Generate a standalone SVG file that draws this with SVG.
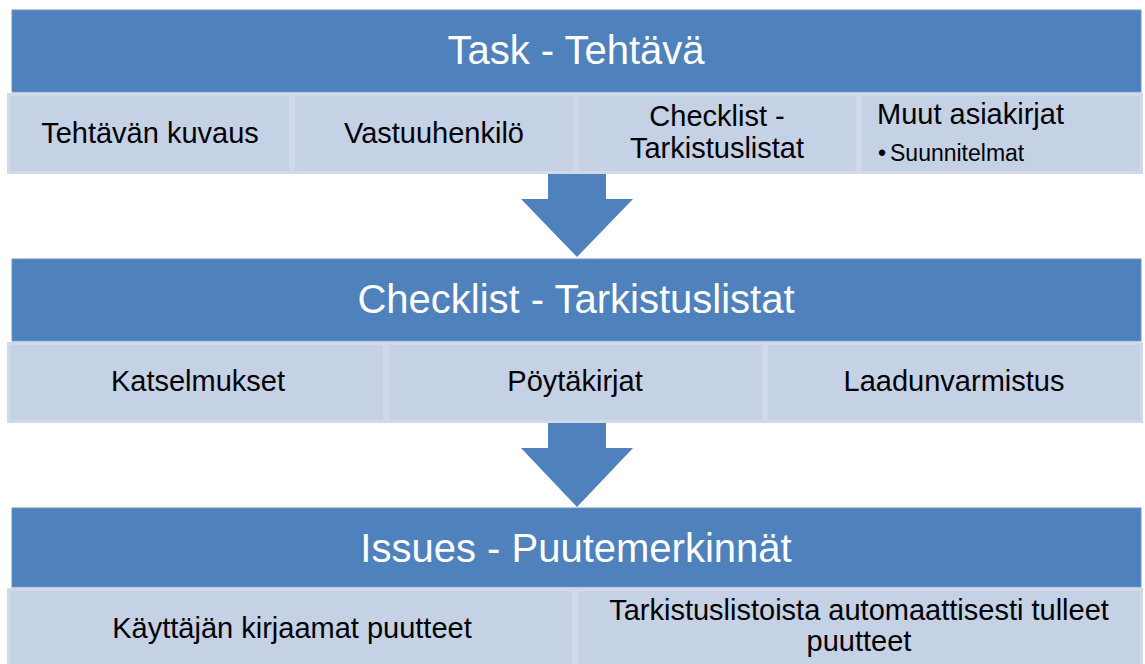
<svg xmlns="http://www.w3.org/2000/svg" width="1145" height="664" viewBox="0 0 1145 664">
<style>
.hdr{fill:#4F81BD;stroke:#6A93C6;stroke-width:1}
.cell{fill:#C5D1E5;stroke:#D0D9EA;stroke-width:3}
.arrow{fill:#4F81BD}
.ht{font-family:"Liberation Sans",Arial,sans-serif;font-size:40px;fill:#FFFFFF;text-anchor:middle}
.ct{font-family:"Liberation Sans",Arial,sans-serif;font-size:29px;fill:#000000;text-anchor:middle}
.bt{font-family:"Liberation Sans",Arial,sans-serif;font-size:23px;fill:#000000}
</style>
<rect width="1145" height="664" fill="#FFFFFF"/>
<g id="connectors">
<polygon class="arrow" points="548,173 606,173 606,199 633,199 577,257 521,199 548,199"/>
<polygon class="arrow" points="548,423 606,423 606,448 633,448 577,507 521,448 548,448"/>
</g>
<g id="task">
<rect class="hdr" x="12" y="10" width="1129" height="82"/>
<text class="ht" x="576" y="64">Task - Tehtävä</text>
</g>
<g id="task-kuvaus">
<rect class="cell" x="8.5" y="94.5" width="282" height="78"/>
<text class="ct" x="150" y="143">Tehtävän kuvaus</text>
</g>
<g id="task-vastuu">
<rect class="cell" x="293.5" y="94.5" width="281" height="78"/>
<text class="ct" x="434" y="143">Vastuuhenkilö</text>
</g>
<g id="task-checklist">
<rect class="cell" x="577.5" y="94.5" width="280" height="78"/>
<text class="ct" x="717" y="126">Checklist -</text>
<text class="ct" x="717" y="158">Tarkistuslistat</text>
</g>
<g id="task-muut">
<rect class="cell" x="860.5" y="94.5" width="281" height="78"/>
<text class="ct" x="877" y="124" style="text-anchor:start">Muut asiakirjat</text>
<text class="bt" x="878" y="161">•</text>
<text class="bt" x="890" y="161">Suunnitelmat</text>
</g>
<g id="checklist">
<rect class="hdr" x="12" y="259" width="1129" height="82"/>
<text class="ht" x="576" y="313">Checklist - Tarkistuslistat</text>
</g>
<g id="cl-katselmukset">
<rect class="cell" x="8.5" y="343.5" width="376" height="78"/>
<text class="ct" x="198" y="391">Katselmukset</text>
</g>
<g id="cl-poytakirjat">
<rect class="cell" x="387.5" y="343.5" width="376" height="78"/>
<text class="ct" x="575" y="391">Pöytäkirjat</text>
</g>
<g id="cl-laadunvarmistus">
<rect class="cell" x="766.5" y="343.5" width="375" height="78"/>
<text class="ct" x="954" y="391">Laadunvarmistus</text>
</g>
<g id="issues">
<rect class="hdr" x="12" y="508" width="1129" height="79"/>
<text class="ht" x="576" y="562">Issues - Puutemerkinnät</text>
</g>
<g id="is-kayttaja">
<rect class="cell" x="8.5" y="589.5" width="565" height="80"/>
<text class="ct" x="292" y="638">Käyttäjän kirjaamat puutteet</text>
</g>
<g id="is-auto">
<rect class="cell" x="576.5" y="589.5" width="565" height="80"/>
<text class="ct" x="859" y="620">Tarkistuslistoista automaattisesti tulleet</text>
<text class="ct" x="859" y="651">puutteet</text>
</g>
</svg>
